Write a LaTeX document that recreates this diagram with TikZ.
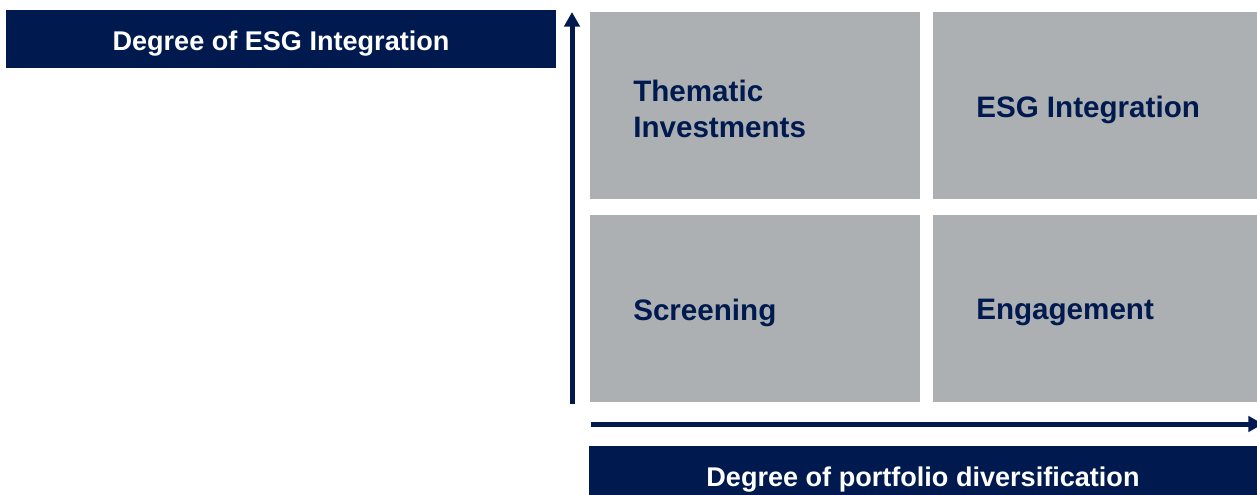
\documentclass[tikz,border=0pt]{standalone}
\usepackage{fontspec}
\setmainfont{Liberation Sans}
\usetikzlibrary{positioning,arrows.meta}
\definecolor{navy}{RGB}{0,26,80}
\definecolor{cellgray}{RGB}{172,176,179}

\begin{document}
\begin{tikzpicture}[x=0.75pt, y=-0.75pt, node distance={9.75pt},
    banner/.style = {fill=navy, text=white, inner sep=0pt, outer sep=0pt,
        minimum height=43.5pt, text height=16.8pt, text depth=0pt,
        font=\fontsize{20.3}{24}\selectfont\bfseries},
    cell/.style = {fill=cellgray, inner sep=0pt, outer sep=0pt, minimum height=140.25pt},
    celltext/.style = {text=navy, inner sep=0pt, anchor=west, align=left,
        font=\fontsize{22.2}{27}\selectfont\bfseries},
    axis/.style = {draw=navy, line width=3.75pt, -{Triangle[width=11.5pt,length=11pt]}}]
    \useasboundingbox (0,0) rectangle (1257,495);
    % axis titles
    \node[banner, anchor=north west, minimum width=412.5pt] (ytitle) at (6,10) {Degree of ESG Integration};
    \node[banner, anchor=north west, minimum width=501pt] (xtitle) at (589,446) {Degree of portfolio diversification};
    % the four quadrants
    \node[cell, anchor=north west, minimum width=247.5pt] (1) at (590,12) {};
    \node[cell, minimum width=243pt] (2) [right=of 1] {};
    \node[cell, minimum width=247.5pt] (3) [below=12pt of 1] {};
    \node[cell, minimum width=243pt] (4) [below=12pt of 2] {};
    \node[celltext] (t1) at ([xshift=32.25pt,yshift=-2.5pt]1.west) {Thematic\\Investments};
    \node[celltext] (t2) at ([xshift=32.25pt,yshift=-3pt]2.west) {ESG Integration};
    \node[celltext] (t3) at ([xshift=32.25pt,yshift=-3pt]3.west) {Screening};
    \node[celltext] (t4) at ([xshift=32.25pt,yshift=-3pt]4.west) {Engagement};
    % axes
    \coordinate (ybot) at (572,404);
    \coordinate (ytop) at (572,12);
    \coordinate (xleft) at (591,424);
    \coordinate (xright) at (1263,424);
    \draw[axis] (ybot) -- (ytop);
    \draw[axis] (xleft) -- (xright);
\end{tikzpicture}
\end{document}
